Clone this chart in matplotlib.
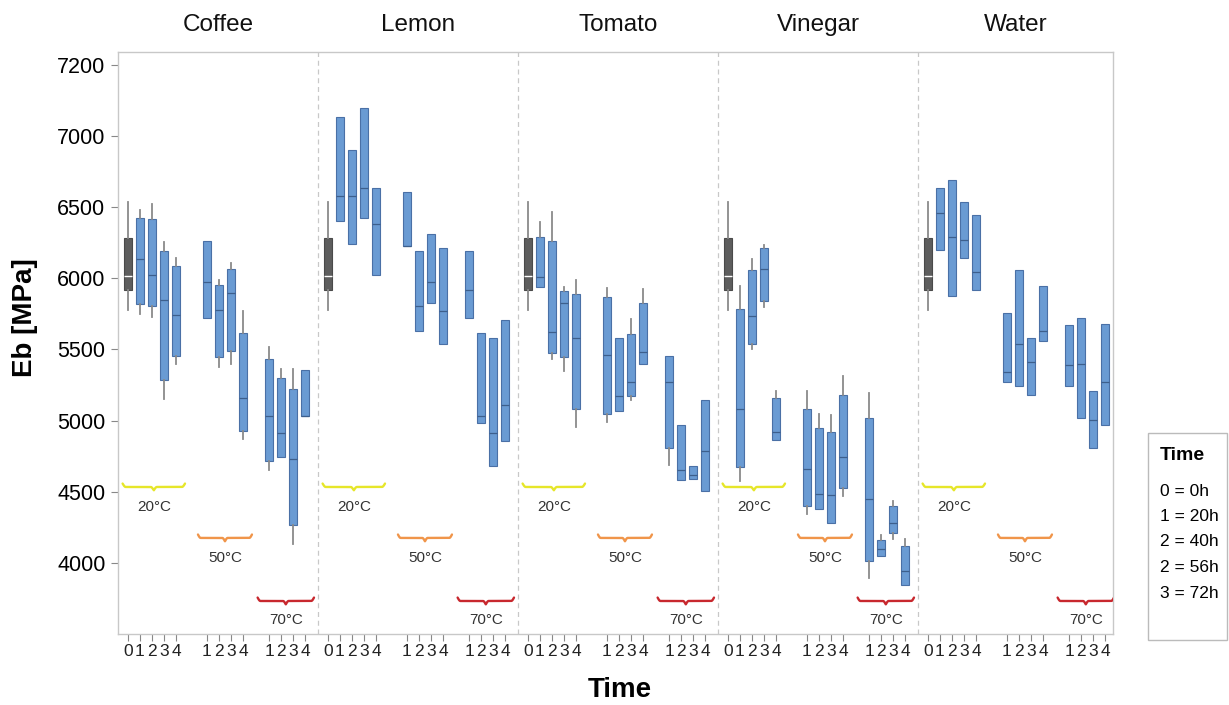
import matplotlib
matplotlib.use("Agg")
import matplotlib.pyplot as plt
from matplotlib.patches import Rectangle
import numpy as np

plt.rcParams['font.family'] = ['Liberation Sans', 'DejaVu Sans']

# ---------------- data ----------------
liquids = ["Coffee", "Lemon", "Tomato", "Vinegar", "Water"]
temperatures = ["20°C", "50°C", "70°C"]
group_times = [["0", "1", "2", "3", "4"], ["1", "2", "3", "4"], ["1", "2", "3", "4"]]

# baseline (time 0) box: whislo, q1, med, q3, whishi
baseline = (5780, 5920, 6014, 6286, 6533)

# per liquid, per temperature: list of (whislo, q1, med, q3, whishi)
coffee = [
    [(5748, 5823, 6138, 6425, 6479), (5729, 5802, 6022, 6415, 6522),
     (5151, 5285, 5850, 6194, 6253), (5398, 5457, 5740, 6084, 6143)],
    [(5721, 5721, 5976, 6259, 6259), (5377, 5447, 5780, 5950, 5990),
     (5398, 5492, 5896, 6068, 6106), (4874, 4928, 5156, 5613, 5769)],
    [(4651, 4713, 5035, 5431, 5519), (4745, 4745, 4914, 5299, 5366),
     (4134, 4264, 4731, 5221, 5366), (5035, 5035, 5035, 5353, 5353)],
]
lemon = [
    [(6404, 6404, 6581, 7130, 7130), (6240, 6240, 6581, 6904, 6904),
     (6425, 6425, 6635, 7194, 7194), (6022, 6022, 6380, 6632, 6632)],
    [(6224, 6224, 6224, 6608, 6608), (5627, 5627, 5802, 6194, 6194),
     (5829, 5829, 5971, 6313, 6313), (5541, 5541, 5767, 6216, 6216)],
    [(5721, 5721, 5915, 6194, 6194), (4981, 4981, 5035, 5613, 5613),
     (4678, 4678, 4914, 5578, 5578), (4855, 4855, 5111, 5710, 5710)],
]
tomato = [
    [(5941, 5941, 6006, 6291, 6393), (5436, 5476, 5624, 6259, 6463),
     (5350, 5447, 5829, 5909, 5936), (4957, 5081, 5578, 5893, 5990)],
    [(4987, 5049, 5463, 5869, 5931), (5070, 5070, 5170, 5578, 5578),
     (5148, 5170, 5269, 5608, 5713), (5398, 5398, 5479, 5829, 5925)],
    [(4688, 4807, 5269, 5452, 5452), (4584, 4584, 4653, 4968, 4968),
     (4592, 4592, 4618, 4683, 4683), (4506, 4506, 4788, 5148, 5148)],
]
vinegar = [
    [(4578, 4672, 5081, 5785, 5949), (5506, 5538, 5734, 6057, 6138),
     (5796, 5839, 6065, 6210, 6232), (4866, 4866, 4922, 5156, 5210)],
    [(4344, 4398, 4662, 5084, 5210), (4376, 4376, 4484, 4947, 5049),
     (4282, 4282, 4476, 4922, 5041), (4471, 4524, 4745, 5183, 5312)],
    [(3892, 4013, 4449, 5022, 5191), (4048, 4048, 4099, 4161, 4194),
     (4167, 4210, 4282, 4403, 4436), (3844, 3844, 3941, 4118, 4167)],
]
water = [
    [(6200, 6200, 6460, 6632, 6632), (5874, 5874, 6291, 6694, 6694),
     (6140, 6140, 6270, 6533, 6533), (5915, 5915, 6044, 6447, 6447)],
    [(5269, 5269, 5345, 5753, 5753), (5245, 5245, 5541, 6057, 6057),
     (5183, 5183, 5412, 5578, 5578), (5560, 5560, 5632, 5949, 5949)],
    [(5245, 5245, 5388, 5673, 5673), (5022, 5022, 5398, 5721, 5721),
     (4807, 4807, 5008, 5210, 5210), (4968, 4968, 5272, 5681, 5681)],
]
all_data = [coffee, lemon, tomato, vinegar, water]

ytick_values = [4000, 4500, 5000, 5500, 6000, 6500, 7000, 7500]
ytick_labels = ["4000", "4500", "5000", "5500", "6000", "6500", "7000", "7200"]
legend_title = "Time"
legend_lines = ["0 = 0h", "1 = 20h", "2 = 40h", "2 = 56h", "3 = 72h"]

# ---------------- styling ----------------
box_fill = "#6a9bd3"
box_edge = "#4a70a6"
base_fill = "#5e5e5e"
whisk_col = "#8a8a8a"
brace_cols = ["#e6e62a", "#f0954a", "#c8282e"]
brace_levels = [4534, 4176, 3733]
label_levels = [4393, 4035, 3600]
brace_shift = [0.15, 0.0, -0.1]
brace_half = [2.6, 2.25, 2.35]

group_starts = [0.0, 6.58, 11.75]
panel_w = 200 / 12
x_left = -10 / 12
x_right = x_left + 995 / 12

AX_L, AX_R, AX_T, AX_B = 118, 1113, 52, 634
fig = plt.figure(figsize=(12.29, 7.05), dpi=100)
ax = fig.add_axes([AX_L / 1229, 1 - AX_B / 705, (AX_R - AX_L) / 1229, (AX_B - AX_T) / 705])


def stat(t, label=""):
    lo, q1, med, q3, hi = t
    return dict(whislo=lo, q1=q1, med=med, q3=q3, whishi=hi, label=label)


xticks, xticklabels = [], []
for p, (name, data) in enumerate(zip(liquids, all_data)):
    off = p * panel_w
    bx0 = off + group_starts[0]
    ax.bxp([stat(baseline)], positions=[bx0], widths=0.68, patch_artist=True,
           showcaps=False, showfliers=False,
           boxprops=dict(facecolor=base_fill, edgecolor="#4a4a4a", linewidth=0.8),
           medianprops=dict(color="white", linewidth=1.0),
           whiskerprops=dict(color=whisk_col, linewidth=1.3))
    for g in range(3):
        start = off + group_starts[g]
        times = group_times[g]
        pos_all = [start + i for i in range(len(times))]
        xticks += pos_all
        xticklabels += times
        pos = pos_all[1:] if g == 0 else pos_all
        stats = [stat(t) for t in data[g]]
        ax.bxp(stats, positions=pos, widths=0.6, patch_artist=True,
               showcaps=False, showfliers=False,
               boxprops=dict(facecolor=box_fill, edgecolor=box_edge, linewidth=0.8),
               medianprops=dict(color="#3d5f8c", linewidth=0.9),
               whiskerprops=dict(color=whisk_col, linewidth=1.3))
        # curly brace under the group
        c = np.mean(pos_all) + brace_shift[g]
        half = brace_half[g]
        t = np.linspace(0, 1, 400)
        h = 24.0
        yb = np.zeros_like(t)
        e = 0.05
        m = t < e
        yb[m] = h * (1 - np.sin(np.pi / 2 * t[m] / e))
        m = t > 1 - e
        yb[m] = h * (1 - np.sin(np.pi / 2 * (1 - t[m]) / e))
        d = np.abs(t - 0.5)
        m = d < e
        yb[m] = -h * (1 - np.sin(np.pi / 2 * d[m] / e))
        ax.plot(c - half + 2 * half * t, brace_levels[g] + yb, color=brace_cols[g],
                linewidth=1.7, solid_capstyle="round", zorder=3)
        ax.text(c, label_levels[g], temperatures[g], ha="center", va="center",
                fontsize=11, color="#333333")
    # panel title
    p_lo = off + x_left
    p_hi = min(off + x_left + panel_w, x_right)
    cx = AX_L + ((p_lo + p_hi) / 2 - x_left) / (x_right - x_left) * (AX_R - AX_L)
    fig.text(cx / 1229, 1 - 25 / 705, name, ha="center", va="center",
             fontsize=17.5, color="#111111")
    if p > 0:
        ax.axvline(p_lo, color="#c8c8c8", linestyle=(0, (4, 3)), linewidth=0.9, zorder=0)

ax.set_xlim(x_left, x_right)
ax.set_ylim(3501, 7590)
ax.set_yticks(ytick_values)
ax.set_yticklabels(ytick_labels, fontsize=15.5)
ax.set_xticks(xticks)
ax.set_xticklabels(xticklabels, fontsize=12.5, color="#222222")
ax.tick_params(axis="x", length=5, color="#888888", pad=2)
ax.tick_params(axis="y", length=5, color="#888888", pad=4)
for s in ax.spines.values():
    s.set_color("#c8c8c8")
    s.set_linewidth(1.0)
ax.set_ylabel("Eb [MPa]", fontsize=20, fontweight="bold")
ax.yaxis.set_label_coords((25 - AX_L) / (AX_R - AX_L), (AX_B - 318) / (AX_B - AX_T))
ax.set_xlabel("Time", fontsize=20, fontweight="bold")
ax.xaxis.set_label_coords((620 - AX_L) / (AX_R - AX_L), -(690 - AX_B) / (AX_B - AX_T))
ax.xaxis.label.set_va("center")
ax.yaxis.label.set_va("center")

# legend box
fig.patches.append(Rectangle((1148 / 1229, 1 - 640 / 705), 79 / 1229, 207 / 705,
                             transform=fig.transFigure, facecolor="white",
                             edgecolor="#bbbbbb", linewidth=1.0))
fig.text(1160 / 1229, 1 - 456 / 705, legend_title, fontsize=14, fontweight="bold",
         ha="left", va="center")
for i, line in enumerate(legend_lines):
    fig.text(1160 / 1229, 1 - (491 + i * 25.5) / 705, line, fontsize=12.5,
             ha="left", va="center")

fig.savefig("out.png", dpi=100)
